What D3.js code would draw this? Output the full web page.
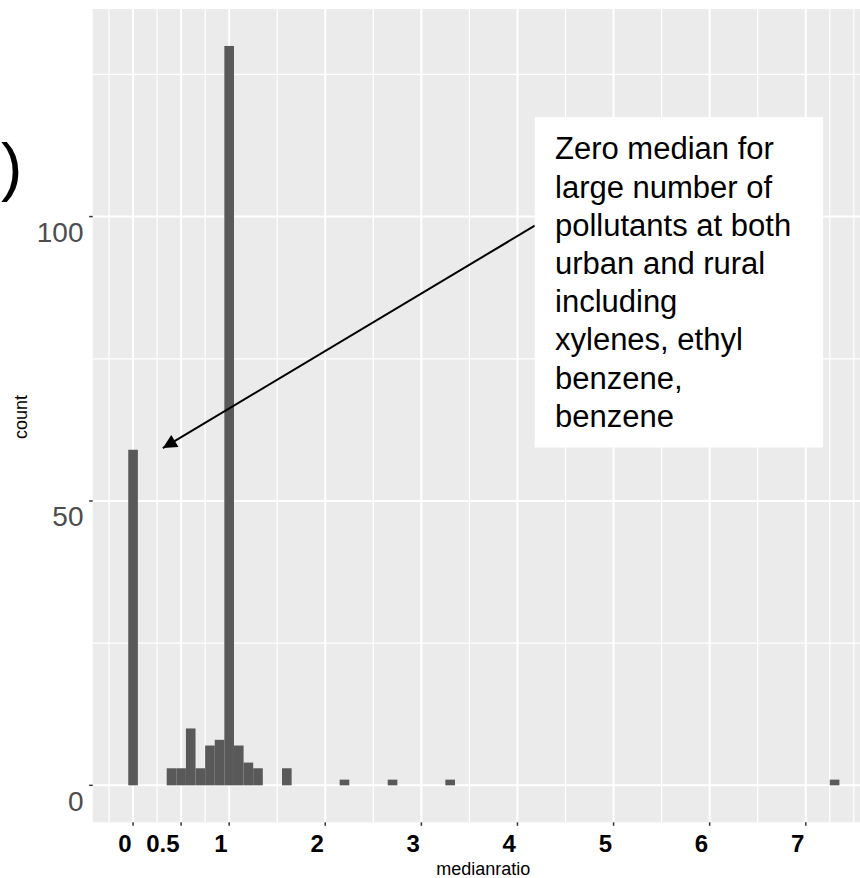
<!DOCTYPE html>
<html>
<head>
<meta charset="utf-8">
<script src="https://cdn.jsdelivr.net/npm/d3@7"></script>
<style>
  body { margin: 0; background: #fff; }
  svg { display: block; font-family: Arial, "Liberation Sans", sans-serif; }
</style>
</head>
<body>
<div id="my_dataviz"></div>
<script>
// histogram bins (centre of bin, binwidth 0.1) and counts
var binCenters = [0, 0.4, 0.5, 0.6, 0.7, 0.8, 0.9, 1.0, 1.1, 1.2, 1.3, 1.6, 2.2, 2.7, 3.3, 7.3];
var counts     = [59, 3, 3, 10, 3, 7, 8, 130, 7, 4, 3, 3, 1, 1, 1, 1];
var binWidth = 0.1;

// axis breaks
var xBreaks = [0, 0.5, 1, 2, 3, 4, 5, 6, 7];
var xLabels = ["0", "0.5", "1", "2", "3", "4", "5", "6", "7"];
var xMinor = [-0.25, 0.25, 0.75, 1.5, 2.5, 3.5, 4.5, 5.5, 6.5, 7.25, 7.5];
var yBreaks = [0, 50, 100];
var yMinor = [25, 75, 125];

var noteLines = ["Zero median for", "large number of", "pollutants at both",
                 "urban and rural", "including", "xylenes, ethyl", "benzene,", "benzene"];

var width = 860, height = 878;
var panel = { left: 92.7, top: 9, bottom: 822.3 };

var svg = d3.select("#my_dataviz")
    .append("svg")
    .attr("width", width)
    .attr("height", height);

// scales (ggplot style 5% expansion)
var x = d3.scaleLinear()
    .domain([-0.42, 7.72])
    .range([panel.left, panel.left + 8.14 * 96.1]);
var y = d3.scaleLinear()
    .domain([-6.5, 136.5])
    .range([panel.bottom, panel.top]);

// panel background
svg.append("rect")
    .attr("x", panel.left)
    .attr("y", panel.top)
    .attr("width", x.range()[1] - panel.left)
    .attr("height", panel.bottom - panel.top)
    .attr("fill", "#ebebeb");

// grid
var grid = svg.append("g").attr("stroke", "#fff");
grid.selectAll(".yminor").data(yMinor).enter().append("line")
    .attr("x1", panel.left).attr("x2", x.range()[1])
    .attr("y1", d => y(d)).attr("y2", d => y(d))
    .attr("stroke-width", 1.2);
grid.selectAll(".xminor").data(xMinor).enter().append("line")
    .attr("y1", panel.top).attr("y2", panel.bottom)
    .attr("x1", d => x(d)).attr("x2", d => x(d))
    .attr("stroke-width", 1.2);
grid.selectAll(".ymajor").data(yBreaks).enter().append("line")
    .attr("x1", panel.left).attr("x2", x.range()[1])
    .attr("y1", d => y(d)).attr("y2", d => y(d))
    .attr("stroke-width", 2);
grid.selectAll(".xmajor").data(xBreaks).enter().append("line")
    .attr("y1", panel.top).attr("y2", panel.bottom)
    .attr("x1", d => x(d)).attr("x2", d => x(d))
    .attr("stroke-width", 2);

// bars
svg.append("g")
    .selectAll("rect")
    .data(binCenters)
    .enter()
    .append("rect")
    .attr("x", d => x(d - binWidth / 2))
    .attr("width", d => x(d + binWidth / 2) - x(d - binWidth / 2))
    .attr("y", (d, i) => y(counts[i]))
    .attr("height", (d, i) => y(0) - y(counts[i]))
    .attr("fill", "#595959");

// y axis ticks + labels
svg.append("g")
    .selectAll("line")
    .data(yBreaks)
    .enter()
    .append("line")
    .attr("x1", panel.left - 3.5).attr("x2", panel.left)
    .attr("y1", d => y(d)).attr("y2", d => y(d))
    .attr("stroke", "#333").attr("stroke-width", 1.5);
svg.append("g")
    .selectAll("text")
    .data(yBreaks)
    .enter()
    .append("text")
    .attr("x", 83.5)
    .attr("y", d => y(d) + 25.5)
    .attr("text-anchor", "end")
    .style("font-size", "28px")
    .attr("fill", "#4d4d4d")
    .text(d => d);

// x axis ticks + labels
svg.append("g")
    .selectAll("line")
    .data(xBreaks)
    .enter()
    .append("line")
    .attr("x1", d => x(d)).attr("x2", d => x(d))
    .attr("y1", panel.bottom).attr("y2", panel.bottom + 3.5)
    .attr("stroke", "#333").attr("stroke-width", 1.5);
svg.append("g")
    .selectAll("text")
    .data(xBreaks)
    .enter()
    .append("text")
    .attr("x", d => x(d) - 1.5)
    .attr("y", panel.bottom + 29.5)
    .attr("text-anchor", "end")
    .style("font-size", "24px")
    .style("font-weight", "bold")
    .attr("fill", "#000")
    .text((d, i) => xLabels[i]);

// axis titles
svg.append("text")
    .attr("x", 483.3).attr("y", 874.5)
    .attr("text-anchor", "middle")
    .style("font-size", "18px")
    .text("medianratio");
svg.append("text")
    .attr("transform", "translate(27,417) rotate(-90)")
    .attr("text-anchor", "middle")
    .style("font-size", "18px")
    .text("count");

// stray bracket at top left
svg.append("text")
    .attr("x", 1).attr("y", 189)
    .style("font-size", "64px")
    .text(")");

// annotation: arrow then box
var defs = svg.append("defs");
defs.append("marker")
    .attr("id", "arrowhead")
    .attr("viewBox", "0 0 10 10")
    .attr("refX", 10).attr("refY", 5)
    .attr("markerWidth", 9).attr("markerHeight", 7)
    .attr("markerUnits", "strokeWidth")
    .attr("orient", "auto")
    .append("path")
    .attr("d", "M0,0 L10,5 L0,10 z")
    .attr("fill", "#000");

svg.append("line")
    .attr("x1", x(4.18)).attr("y1", y(98.4))
    .attr("x2", x(0.31)).attr("y2", y(59.3))
    .attr("stroke", "#000")
    .attr("stroke-width", 2)
    .attr("marker-end", "url(#arrowhead)");

svg.append("rect")
    .attr("x", x(4.18)).attr("y", y(117.5))
    .attr("width", x(7.18) - x(4.18))
    .attr("height", y(59.4) - y(117.5))
    .attr("fill", "#fff");

svg.append("g")
    .selectAll("text")
    .data(noteLines)
    .enter()
    .append("text")
    .attr("x", 555)
    .attr("y", (d, i) => 159.3 + i * 38.2)
    .style("font-size", "31px")
    .attr("fill", "#000")
    .text(d => d);
</script>
</body>
</html>
